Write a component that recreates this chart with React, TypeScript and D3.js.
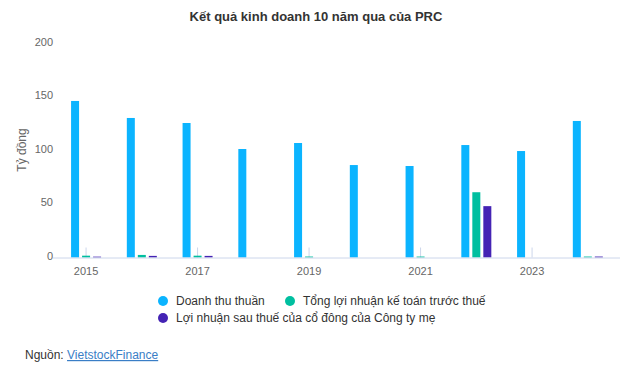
import React from "react";
import * as d3 from "d3";

const years = ["2015","2016","2017","2018","2019","2020","2021","2022","2023","2024"];
const revenue = [146.3, 130.4, 125.7, 101.4, 107, 86.4, 85.5, 105.1, 99.5, 127.6];
const preTaxProfit = [1.7, 2.4, 1.7, 0, 0.9, 0, 0.9, 61, 0, 0.9];
const netProfit = [0.8, 1.5, 1.5, 0, 0, 0, 0, 48, 0, 0.9];
const yTicks = [0, 50, 100, 150, 200];
const labeledYears = ["2015","2017","2019","2021","2023"];
const seriesNames = ["Doanh thu thuần", "Tổng lợi nhuận kế toán trước thuế", "Lợi nhuận sau thuế của cổ đông của Công ty mẹ"];
const colors = ["#0bb4ff", "#00bfa0", "#4423b4"];

const W = 632, H = 380;
const plotLeft = 58.2, plotRight = 615.7, plotTop = 43.5, plotBottom = 257.5;
const font = "'Liberation Sans', Arial, Helvetica, sans-serif";

export default function App() {
  const x = d3.scaleBand<string>().domain(years).range([plotLeft, plotRight]).paddingInner(0).paddingOuter(0);
  const y = d3.scaleLinear().domain([0, 200]).range([plotBottom, plotTop]);
  const series = [revenue, preTaxProfit, netProfit];
  const barW = 8, step = 11;
  return (
    <svg width={W} height={H} style={{ position: "absolute", left: 0, top: 0, fontFamily: font }}>
      <rect width={W} height={H} fill="#fff" />
      <text x={316} y={21} textAnchor="middle" fontSize={13} fontWeight="bold" fill="#333">Kết quả kinh doanh 10 năm qua của PRC</text>
      {yTicks.map(t => (
        <text key={t} x={53} y={y(t) + 2} textAnchor="end" fontSize={11} fill="#666">{t}</text>
      ))}
      <text transform={`translate(26,150) rotate(-90)`} textAnchor="middle" fontSize={12} fill="#666">Tỷ đồng</text>
      {labeledYears.map(yr => {
        const cx = (x(yr) as number) + x.bandwidth() / 2;
        return <line key={"t" + yr} x1={cx} x2={cx} y1={plotBottom - 10} y2={plotBottom} stroke="#ccd6eb" strokeWidth={1} />;
      })}
      {series.map((s, si) => s.map((v, i) => {
        if (v <= 0) return null;
        const cx = (x(years[i]) as number) + x.bandwidth() / 2;
        const bx = cx + (si - 1) * step - barW / 2;
        return <rect key={si + "-" + i} x={bx} y={y(v)} width={barW} height={plotBottom - y(v)} fill={colors[si]} />;
      }))}
      <line x1={53} x2={620} y1={plotBottom + 0.5} y2={plotBottom + 0.5} stroke="#ccd6eb" strokeWidth={1} />
      {labeledYears.map(yr => {
        const cx = (x(yr) as number) + x.bandwidth() / 2;
        return <text key={"l" + yr} x={cx} y={275} textAnchor="middle" fontSize={11} fill="#666">{yr}</text>;
      })}
      <g fontSize={12} fill="#333">
        <circle cx={163} cy={301} r={5} fill={colors[0]} />
        <text x={176} y={305}>{seriesNames[0]}</text>
        <circle cx={290} cy={301} r={5} fill={colors[1]} />
        <text x={303} y={305}>{seriesNames[1]}</text>
        <circle cx={163} cy={318} r={5} fill={colors[2]} />
        <text x={176} y={322}>{seriesNames[2]}</text>
      </g>
      <text x={25} y={359} fontSize={12} fill="#333">Nguồn: <tspan fill="#3a7ec6" textDecoration="underline">VietstockFinance</tspan></text>
    </svg>
  );
}
